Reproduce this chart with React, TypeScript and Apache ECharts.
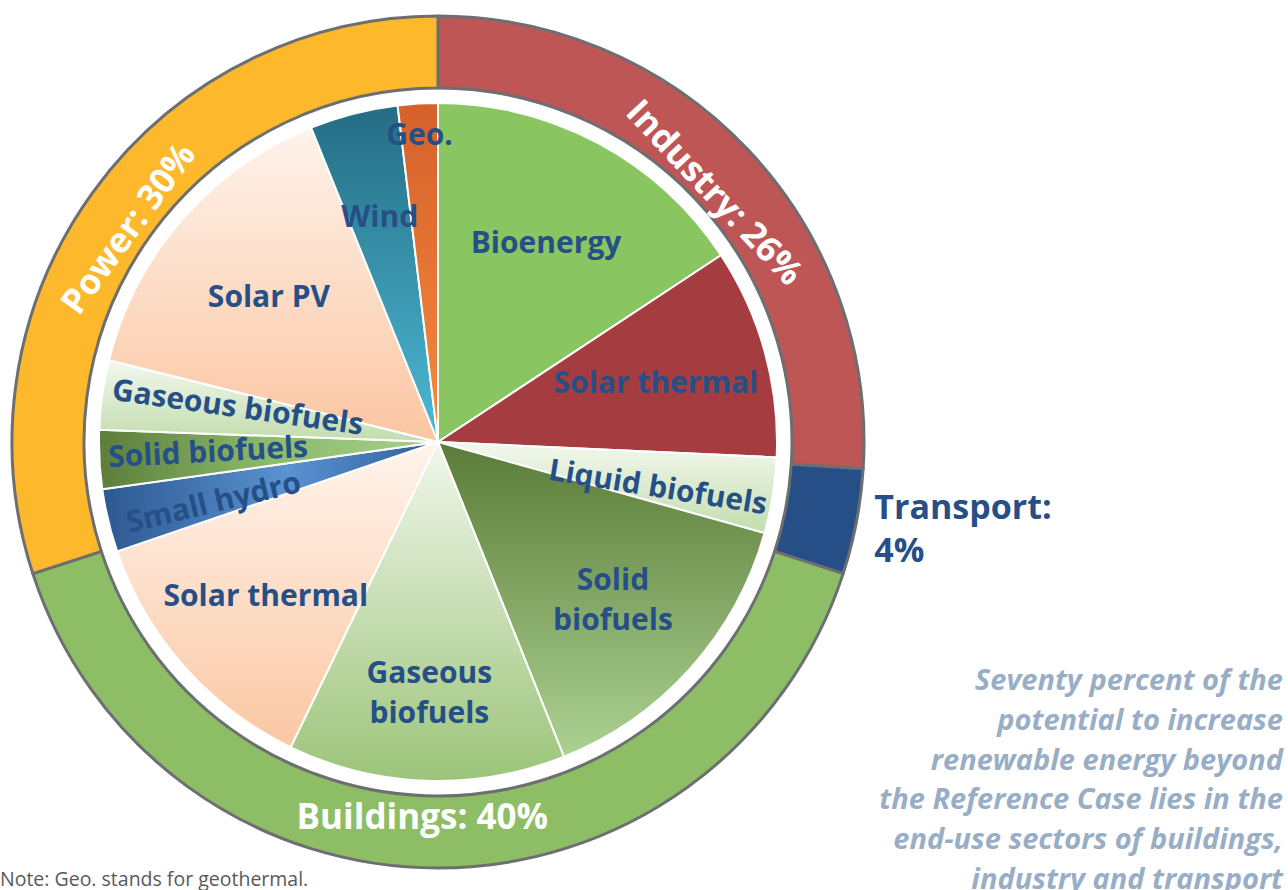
import React, { useEffect, useRef } from "react";
import * as echarts from "echarts";

// ---- data ----
const sectorNames = ["Industry", "Transport", "Buildings", "Power"];
const sectorShares = [26, 4, 40, 30];

const techNames = [
  "Bioenergy",
  "Solar thermal",
  "Liquid biofuels",
  "Solid\nbiofuels",
  "Gaseous\nbiofuels",
  "Solar thermal",
  "Small hydro",
  "Solid biofuels",
  "Gaseous biofuels",
  "Solar PV",
  "Wind",
  "Geo.",
];
const techShares = [15.7, 10.0, 3.6, 14.6, 13.2, 12.6, 3.0, 2.8, 3.3, 15.0, 4.2, 1.9];

const noteText = "Note: Geo. stands for geothermal.";
const sideText = [
  "Seventy percent of the",
  "potential to increase",
  "renewable energy beyond",
  "the Reference Case lies in the",
  "end-use sectors of buildings,",
  "industry and transport",
];

// ---- styles ----
const CX = 438;
const CY = 442;
const PIE_R = 339;
const RING_R0 = 354;
const RING_R1 = 426;
const BLUE = "#264f87";
const FONT = "'Open Sans', sans-serif";

const sectorColors = ["#bd5655", BLUE, "#8dbe66", "#fdb92b"];

const lin = (x2: number, y2: number, stops: [number, string][]) => ({
  type: "linear",
  x: 0,
  y: 0,
  x2,
  y2,
  colorStops: stops.map(([offset, color]) => ({ offset, color })),
});

const techColors: any[] = [
  "#89c662",
  "#a53c3f",
  lin(0, 1, [[0, "#f3f8ee"], [1, "#c3ddae"]]),
  lin(0, 1, [[0, "#5a7c38"], [1, "#acd192"]]),
  lin(0, 1, [[0, "#f1f7ec"], [1, "#9cc479"]]),
  lin(0, 1, [[0, "#fff4ec"], [1, "#fbc7a3"]]),
  lin(1, 0, [[0, "#2c5890"], [0.55, "#5a92d2"], [1, "#305f99"]]),
  lin(1, 0, [[0, "#5d7d3b"], [0.5, "#8bbb6b"], [1, "#a6cf8b"]]),
  lin(0, 1, [[0, "#f3f8ef"], [1, "#c2dcad"]]),
  lin(0, 1, [[0, "#fef3eb"], [1, "#fbc6a2"]]),
  lin(0, 1, [[0, "#246d84"], [1, "#4db9d4"]]),
  lin(0, 1, [[0, "#d6602b"], [1, "#f58b3d"]]),
];
const techLabelRadius = [228, 226, 225, 235, 250, 230, 232, 230, 204, 224, 234, 309];
const techLabelShift = [0, 0, 0, 0, 0, 0, 2.2, 1.6, 1.0, 0, 0, 0];
const techRadial = [false, false, true, false, false, false, true, true, true, false, false, false];
const ringLabelRadius = [386, null, 374, 392];
const ringLabelShift = [2.8, 0, 2.4, -2.6];

export default function App() {
  const ref = useRef<HTMLDivElement>(null);
  useEffect(() => {
    if (!ref.current) return;
    const chart = echarts.init(ref.current, undefined, { renderer: "svg" });

    // move a label to a given radius / angular offset around the pie centre
    const radialMove = (targets: (number | null)[], shifts: number[]) => (p: any) => {
      const r = p.labelRect;
      if (!r) return {};
      const t = targets[p.dataIndex];
      if (t == null) return { dy: 4 };
      const ox = r.x + r.width / 2;
      const oy = r.y + r.height / 2;
      const th = Math.atan2(ox - CX, -(oy - CY)) + ((shifts[p.dataIndex] || 0) * Math.PI) / 180;
      const nx = CX + t * Math.sin(th);
      const ny = CY - t * Math.cos(th);
      return { dx: nx - ox, dy: ny - oy };
    };

    chart.setOption({
      animation: false,
      backgroundColor: "#ffffff",
      series: [
        {
          type: "pie",
          name: "sectors",
          center: [CX, CY],
          radius: [RING_R0, RING_R1],
          startAngle: 90,
          clockwise: true,
          silent: true,
          avoidLabelOverlap: false,
          itemStyle: { borderColor: "#6d6e71", borderWidth: 3 },
          label: {
            show: true,
            position: "inside",
            rotate: "tangential",
            color: "#ffffff",
            fontFamily: FONT,
            fontWeight: 700,
            fontSize: 35,
            formatter: (p: any) => `${p.name}: ${p.value}%`,
          },
          labelLine: { show: false },
          labelLayout: radialMove(ringLabelRadius, ringLabelShift),
          data: sectorNames.map((n, i) => ({
            name: n,
            value: sectorShares[i],
            itemStyle: { color: sectorColors[i] },
            label:
              i === 1
                ? {
                    position: "outside",
                    rotate: 0,
                    color: BLUE,
                    fontSize: 34,
                    lineHeight: 43,
                    align: "left",
                    formatter: (p: any) => `${p.name}:\n${p.value}%`,
                  }
                : undefined,
            labelLine: i === 1 ? { show: false, length: 8, length2: 5 } : undefined,
          })),
        },
        {
          type: "pie",
          name: "technologies",
          center: [CX, CY],
          radius: [0, PIE_R],
          startAngle: 90,
          clockwise: true,
          silent: true,
          avoidLabelOverlap: false,
          itemStyle: { borderColor: "#ffffff", borderWidth: 2 },
          label: {
            show: true,
            position: "inside",
            color: BLUE,
            fontFamily: FONT,
            fontWeight: 700,
            fontSize: 30,
            lineHeight: 40,
            formatter: (p: any) => p.name,
          },
          labelLine: { show: false },
          labelLayout: radialMove(techLabelRadius, techLabelShift),
          data: techNames.map((n, i) => ({
            name: n,
            value: techShares[i],
            itemStyle: { color: techColors[i] },
            label: { rotate: techRadial[i] ? "radial" : 0 },
          })),
        },
      ],
      graphic: [
        {
          type: "text",
          x: 1283,
          y: 659,
          style: {
            text: sideText.join("\n"),
            fill: "#98aec6",
            fontFamily: FONT,
            fontStyle: "italic",
            fontWeight: 700,
            fontSize: 29,
            lineHeight: 39.7,
            align: "right",
            verticalAlign: "top",
          },
        },
        {
          type: "text",
          x: 0,
          y: 868,
          style: {
            text: noteText,
            fill: "#58595b",
            fontFamily: FONT,
            fontSize: 19.5,
            verticalAlign: "top",
          },
        },
      ],
    });
    return () => chart.dispose();
  }, []);
  return (
    <div
      ref={ref}
      style={{ position: "absolute", left: 0, top: 0, width: 1288, height: 890 }}
    />
  );
}
